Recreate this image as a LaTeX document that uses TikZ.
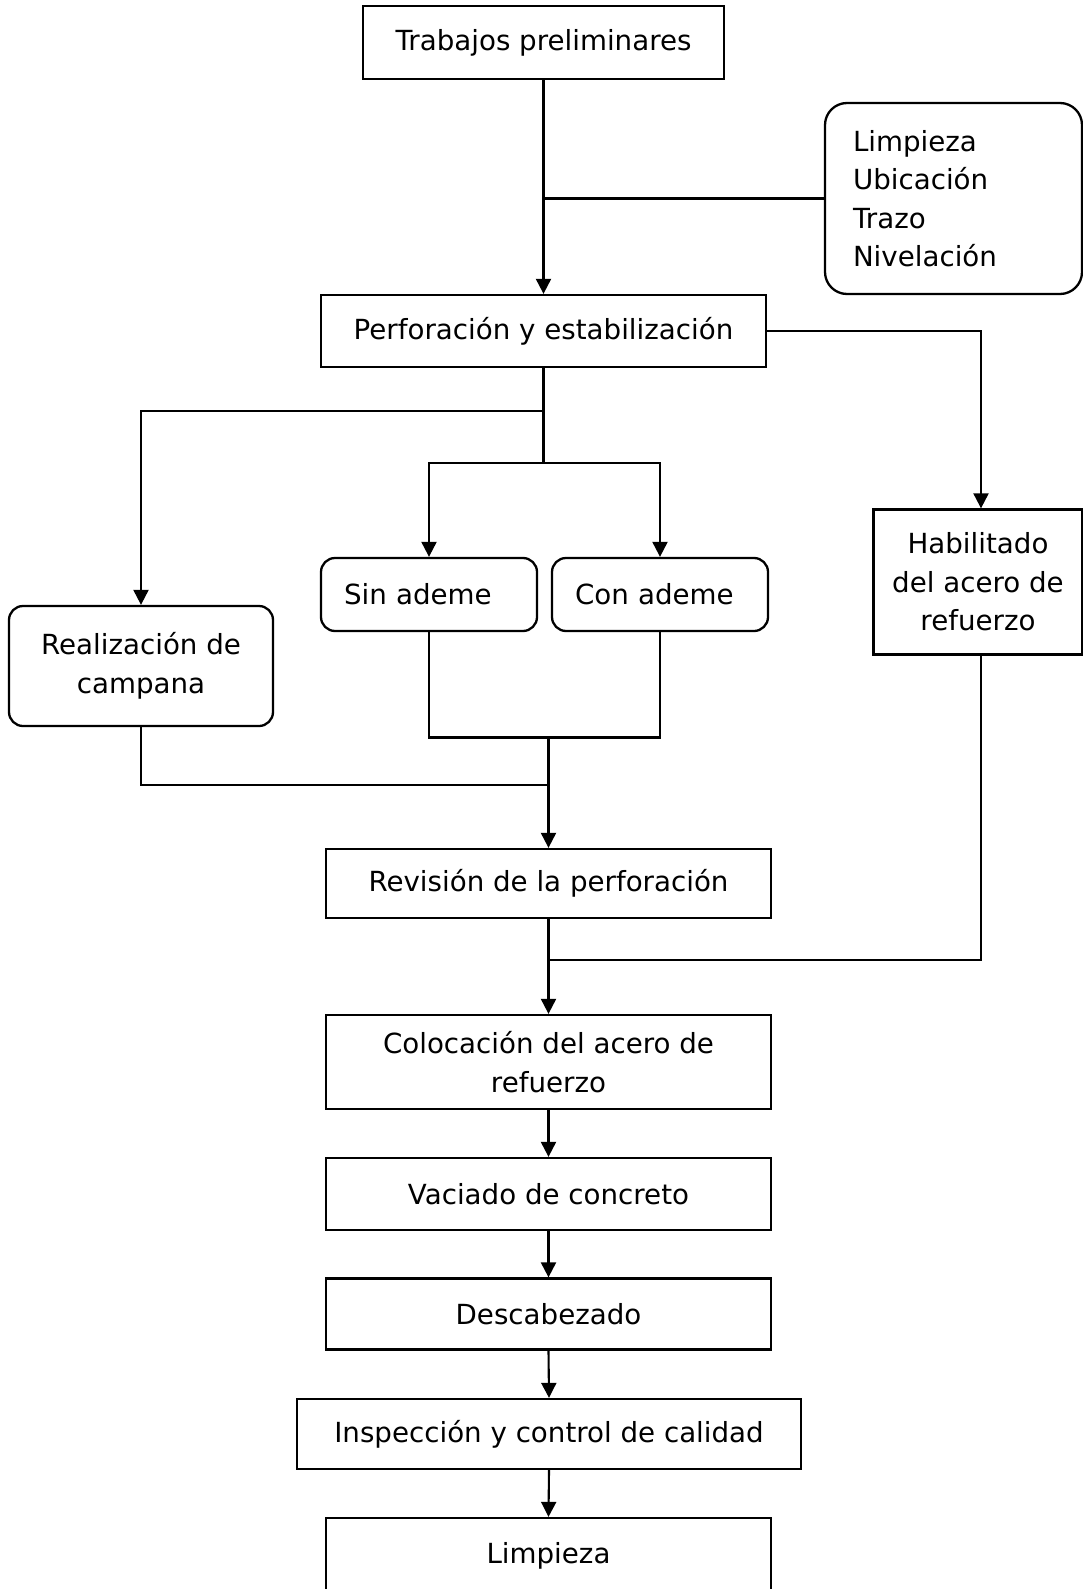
\documentclass[tikz,border=0pt]{standalone}
\usepackage{fontspec}
\setmainfont{DejaVu Sans}
\usetikzlibrary{arrows.meta}
\newcommand{\fsz}{\fontsize{27.7}{38.5}\selectfont}
\begin{document}
\begin{tikzpicture}[x=1pt,y=-1pt,
  box/.style={draw, line width=2.3pt, inner sep=0pt, align=center, font=\fsz},
  rbox/.style={box, rounded corners=14pt},
  lbox/.style={rbox, align=left, inner xsep=23pt},
  conn/.style={line width=2.1pt},
  arr/.style={conn, -{Triangle[length=15pt,width=15pt]}}]
\useasboundingbox[fill=white] (0,0) rectangle (1083,1589);
% nodes
\node[box, minimum width=361, minimum height=73] (trab) at (543.5,42.5) {Trabajos preliminares};
\node[box, rounded corners=22pt, align=left, inner xsep=28pt, text width=201pt, minimum height=191] (lst) at (953.5,198.5) {Limpieza\\Ubicación\\Trazo\\Nivelación};
\node[box, minimum width=445, minimum height=72] (perf) at (543.5,331) {Perforación y estabilización};
\node[box, minimum width=209, minimum height=145] (hab) at (978,582) {Habilitado\\del acero de\\refuerzo};
\node[rbox, minimum width=264, minimum height=120] (real) at (141,666) {Realización de\\campana};
\node[lbox, text width=170pt, minimum height=73] (sin) at (429,594.5) {Sin ademe};
\node[lbox, text width=170pt, minimum height=73] (con) at (660,594.5) {Con ademe};
\node[box, minimum width=445, minimum height=69] (rev) at (548.5,883.5) {Revisión de la perforación};
\node[box, minimum width=445, minimum height=94] (col) at (548.5,1062) {Colocación del acero de\\refuerzo};
\node[box, minimum width=445, minimum height=72] (vac) at (548.5,1194) {Vaciado de concreto};
\node[box, minimum width=445, minimum height=71] (des) at (548.5,1314) {Descabezado};
\node[box, minimum width=504, minimum height=70] (ins) at (549,1434) {Inspección y control de calidad};
\node[box, minimum width=445, minimum height=76] (lim) at (548.5,1556) {Limpieza};
% junctions
\coordinate (j1) at (543.5,411);
\coordinate (j2) at (543.5,463);
\coordinate (j3) at (548.5,737.5);
\coordinate (j4) at (548.5,785);
\coordinate (j5) at (548.5,960);
% connectors
\draw[arr] (trab.south) -- (perf.north);
\draw[conn] (lst.west) -- (lst.west -| trab.south);
\draw[arr] (perf.east) -| ([xshift=3pt]hab.north);
\draw[conn] (perf.south) -- (j2);
\draw[arr] (j1) -| (real.north);
\draw[arr] (j2) -| (sin.north);
\draw[arr] (j2) -| (con.north);
\draw[conn] (sin.south) |- (j3) -| (con.south);
\draw[conn] (real.south) |- (j4);
\draw[arr] (j3) -- (rev.north);
\draw[arr] (rev.south) -- (col.north);
\draw[conn] ([xshift=3pt]hab.south) |- (j5);
\draw[arr] (col.south) -- (vac.north);
\draw[arr] (vac.south) -- (des.north);
\draw[arr] (des.south) -- (ins.north);
\draw[arr] (ins.south) -- (lim.north);
\end{tikzpicture}
\end{document}
